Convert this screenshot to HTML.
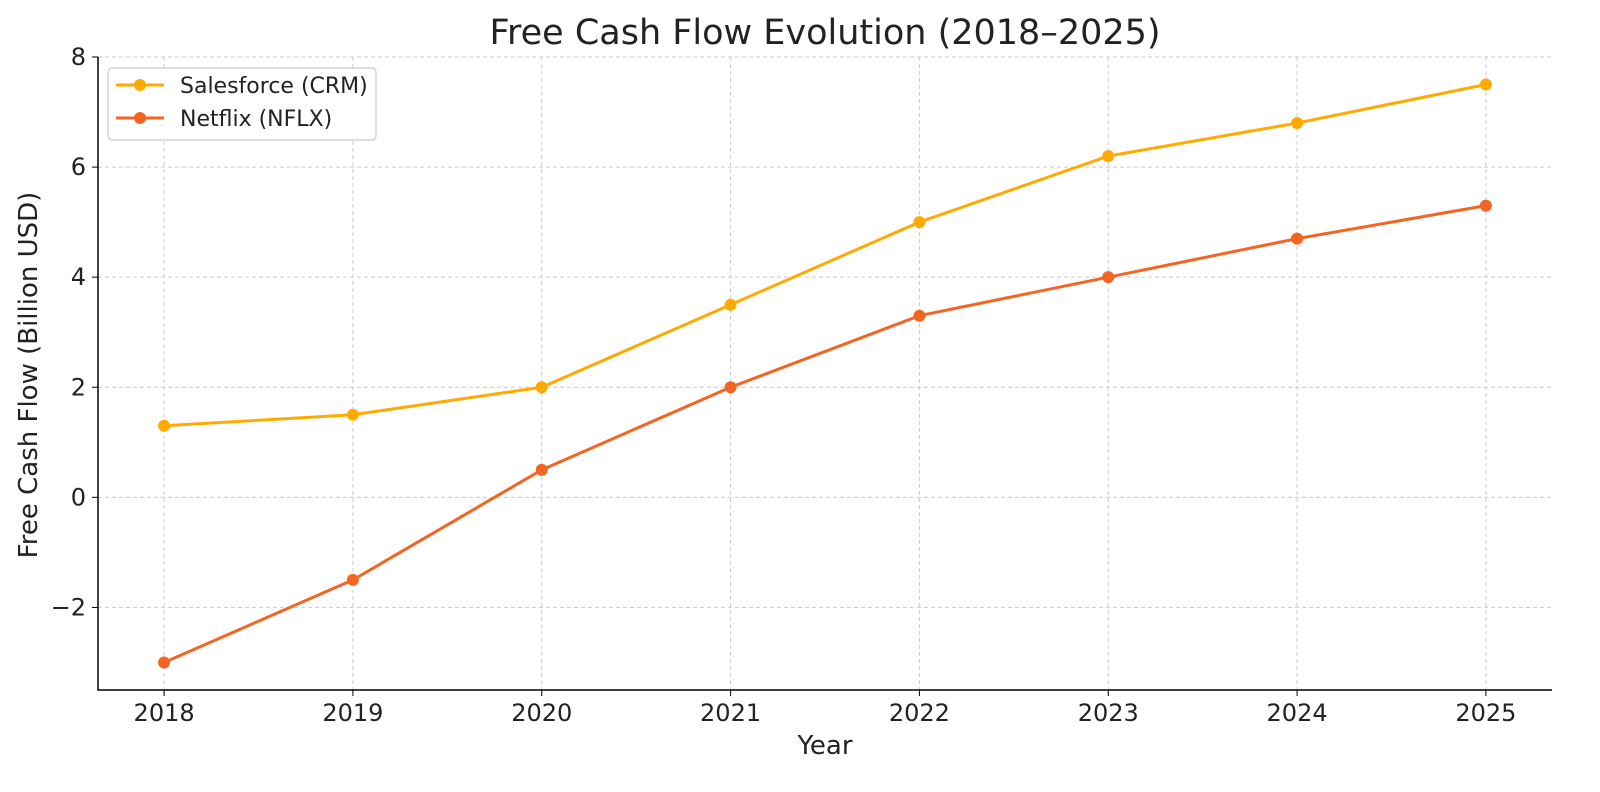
<!DOCTYPE html>
<html><head><meta charset="utf-8"><style>
html,body{margin:0;padding:0;background:#fff;}
svg{display:block;font-family:"DejaVu Sans","Liberation Sans",sans-serif;}
</style></head><body>
<svg id="chart" width="1600" height="792" xmlns="http://www.w3.org/2000/svg">
<text x="825" y="44" font-size="35" text-anchor="middle" fill="#222">Free Cash Flow Evolution (2018–2025)</text>
<g id="grid"></g><g id="axes"></g><g id="series"></g>
<text x="825" y="754" font-size="26" text-anchor="middle" fill="#222">Year</text>
<text transform="translate(37,375) rotate(-90)" font-size="26" text-anchor="middle" fill="#222">Free Cash Flow (Billion USD)</text>
<g>
<rect x="108" y="68" width="268" height="72" rx="4" fill="#fff" stroke="#ccc" stroke-width="1.2"/>
<g><line x1="116" y1="85" x2="164" y2="85" stroke="#FFAA00" stroke-width="3"/><circle cx="140" cy="85" r="6" fill="#FFAA00"/><text x="180" y="93" font-size="22" fill="#222">Salesforce (CRM)</text></g>
<g><line x1="116" y1="118" x2="164" y2="118" stroke="#F26522" stroke-width="3"/><circle cx="140" cy="118" r="6" fill="#F26522"/><text x="180" y="126" font-size="22" fill="#222">Netflix (NFLX)</text></g>
</g>
</svg>
<script>
const years=[2018,2019,2020,2021,2022,2023,2024,2025];
const salesforce=[1.3,1.5,2.0,3.5,5.0,6.2,6.8,7.5];
const netflix=[-3.0,-1.5,0.5,2.0,3.3,4.0,4.7,5.3];
const yTicks=[-2,0,2,4,6,8];
const yTickLabels=["−2","0","2","4","6","8"];
const NS="http://www.w3.org/2000/svg";
const L=98,R=1552,T=57,B=690,xmin=2017.65,xmax=2025.35,ymin=-3.5,ymax=8;
const X=v=>L+(v-xmin)/(xmax-xmin)*(R-L);
const Y=v=>B-(v-ymin)/(ymax-ymin)*(B-T);
function mk(tag,attrs,parent){const e=document.createElementNS(NS,tag);for(const k in attrs)e.setAttribute(k,attrs[k]);parent.appendChild(e);return e;}
const grid=document.getElementById('grid'),axes=document.getElementById('axes'),ser=document.getElementById('series');
years.forEach(y=>{
 const g=mk('line',{x1:X(y),x2:X(y),y1:T,y2:B,stroke:'#ccc','stroke-dasharray':'4,3'},grid);
 
 
 mk('line',{x1:X(y),x2:X(y),y1:B,y2:B+6,stroke:'#000'},axes);
 const t=mk('text',{x:X(y),y:B+31,'font-size':24,'text-anchor':'middle',fill:'#222'},axes);
 t.textContent=y;
 
 
});
yTicks.forEach((v,i)=>{
 const g=mk('line',{x1:L,x2:R,y1:Y(v),y2:Y(v),stroke:'#ccc','stroke-dasharray':'4,3'},grid);
 
 
 mk('line',{x1:L-6,x2:L,y1:Y(v),y2:Y(v),stroke:'#000'},axes);
 const t=mk('text',{x:L-12,y:Y(v)+8,'font-size':24,'text-anchor':'end',fill:'#222'},axes);
 t.textContent=yTickLabels[i];
 
 
});
const ax=mk('path',{d:`M${L},${T} V${B} H${R}`,fill:'none',stroke:'#000','stroke-width':1.5},axes);


function series(vals,color,name){
 const p=mk('polyline',{points:vals.map((v,i)=>X(years[i])+','+Y(v)).join(' '),fill:'none',stroke:color,'stroke-width':3},ser);
 
 
 vals.forEach((v,i)=>{
  const c=mk('circle',{cx:X(years[i]),cy:Y(v),r:6,fill:color},ser);
  
  
 });
}
series(salesforce,'#FFAA00','salesforce');
series(netflix,'#F26522','netflix');
</script>
</body></html>
